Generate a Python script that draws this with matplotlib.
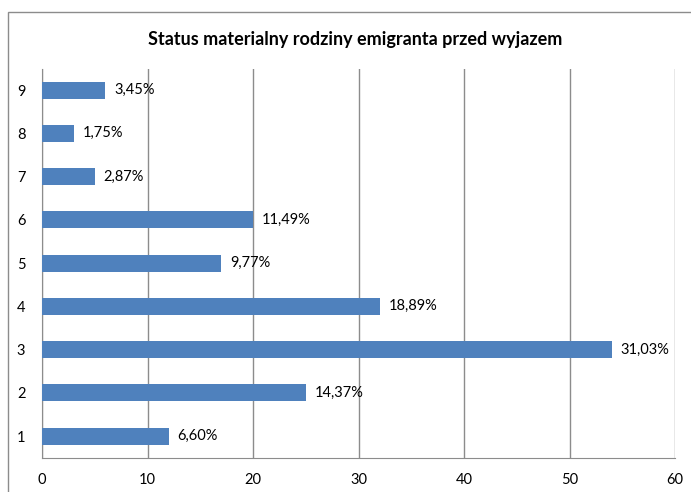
import matplotlib.pyplot as plt
from matplotlib.patches import Rectangle

categories = ["1", "2", "3", "4", "5", "6", "7", "8", "9"]
counts = [12, 25, 54, 32, 17, 20, 5, 3, 6]
labels = ["6,60%", "14,37%", "31,03%", "18,89%", "9,77%",
          "11,49%", "2,87%", "1,75%", "3,45%"]
xticks = [0, 10, 20, 30, 40, 50, 60]

W, H = 691, 492
fig = plt.figure(figsize=(W / 100, H / 100), dpi=100)
fig.patch.set_facecolor("white")

# outer chart frame
fig.add_artist(Rectangle((7.5 / W, -0.05), 1.0, (H - 12) / H + 0.05,
                         transform=fig.transFigure, fill=False,
                         edgecolor="#8c8c8c", linewidth=1.0))

ax = fig.add_axes([42 / W, (H - 457.7) / H, (675 - 42) / W, (457.7 - 68.5) / H])
pos = range(len(categories))
ax.barh(pos, counts, height=0.39, color="#4F81BD", zorder=3)

font = "Lato"
for i, (v, t) in enumerate(zip(counts, labels)):
    ax.annotate(t, (v, i), xytext=(9, 0), textcoords="offset pixels",
                va="center", ha="left", fontsize=10.5, family=font)

ax.set_xlim(0, 60)
ax.set_ylim(-0.5, len(categories) - 0.5)
ax.set_xticks(xticks)
ax.set_xticklabels([str(x) for x in xticks], fontsize=10.5, family=font)
ax.set_yticks(list(pos))
ax.set_yticklabels(categories, fontsize=10.5, family=font)
ax.tick_params(axis="x", length=0, pad=11)
ax.tick_params(axis="y", length=0, pad=12)
ax.grid(axis="x", color="#8c8c8c", linewidth=1.0, zorder=0)

for side in ["top", "right"]:
    ax.spines[side].set_visible(False)
for side in ["left", "bottom"]:
    ax.spines[side].set_color("#8c8c8c")

fig.text(355 / W, 1 - 40 / H, "Status materialny rodziny emigranta przed wyjazem",
         ha="center", va="center", fontsize=13, fontweight="bold", family=font)

fig.savefig("out.png", dpi=100)
